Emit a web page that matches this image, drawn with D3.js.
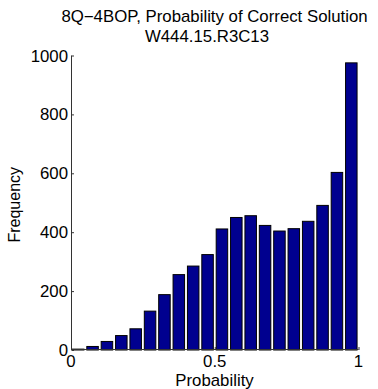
<!DOCTYPE html>
<html>
<head>
<meta charset="utf-8">
<script src="https://cdn.jsdelivr.net/npm/d3@7"></script>
<style>
  html, body { margin: 0; padding: 0; background: #fff; }
  svg { display: block; }
  text { font-family: "Liberation Sans", Arial, Helvetica, sans-serif; fill: #000; }
</style>
</head>
<body>
<svg id="chart" width="378" height="389"></svg>
<script>
// Histogram of solution probabilities, 20 equal bins on [0, 1]
const binCenters = [0.025, 0.075, 0.125, 0.175, 0.225, 0.275, 0.325, 0.375, 0.425, 0.475,
                    0.525, 0.575, 0.625, 0.675, 0.725, 0.775, 0.825, 0.875, 0.925, 0.975];
const counts = [3, 12, 29, 49, 72, 132, 188, 256, 285, 324,
                411, 450, 456, 423, 404, 412, 437, 491, 603, 975];
const binWidth = 0.05;

const xTicks = [0, 0.5, 1];
const xTickLabels = ["0", "0.5", "1"];
const yTicks = [0, 200, 400, 600, 800, 1000];
const yTickLabels = ["0", "200", "400", "600", "800", "1000"];

const titleLines = ["8Q\u22124BOP, Probability of Correct Solution", "W444.15.R3C13"];
const xLabel = "Probability";
const yLabel = "Frequency";

const svg = d3.select("#chart");
const plot = { left: 71, right: 358.5, top: 55.5, bottom: 350 };
const stretch = 1.05;   // slight horizontal widening of the figure text
const fontSize = 16;

const x = d3.scaleLinear().domain([0, 1]).range([plot.left, plot.right]);
const y = d3.scaleLinear().domain([0, 1000]).range([plot.bottom, plot.top]);

// bars
svg.append("g").selectAll("rect")
  .data(binCenters.map((c, i) => ({ c, v: counts[i] })))
  .join("rect")
  .attr("x", d => x(d.c - 0.4 * binWidth))
  .attr("width", d => x(0.8 * binWidth) - x(0))
  .attr("y", d => y(d.v))
  .attr("height", d => y(0) - y(d.v))
  .attr("fill", "#00008f")
  .attr("stroke", "#000")
  .attr("stroke-width", 1);

// helper for horizontally stretched text
function label(sel, txt, cx, baseline, anchor) {
  sel.append("text")
    .attr("transform", `translate(${cx},${baseline}) scale(${stretch},1)`)
    .attr("text-anchor", anchor)
    .style("font-size", fontSize + "px")
    .text(txt);
}

// axes (ticks point inward)
const yAxis = d3.axisLeft(y).tickValues(yTicks).tickSize(-3).tickFormat((d, i) => yTickLabels[i]);
const xAxis = d3.axisBottom(x).tickValues(xTicks).tickSize(-3).tickFormat((d, i) => xTickLabels[i]);

const gy = svg.append("g").attr("transform", `translate(${plot.left},0)`).call(yAxis);
gy.select(".domain").attr("d", `M0.5,${plot.top}V${plot.bottom}`).attr("stroke", "#333");
gy.selectAll(".tick line").attr("stroke", "#333").attr("x1", 0.5);
gy.selectAll(".tick text").remove();
yTicks.forEach((t, i) => label(svg, yTickLabels[i], plot.left - 3, y(t) + 6, "end"));

const gx = svg.append("g").attr("transform", `translate(0,${plot.bottom})`).call(xAxis);
gx.select(".domain").attr("d", `M${plot.left},-0.5H${plot.right}`).attr("stroke", "#333");
gx.selectAll(".tick line").attr("stroke", "#333");
gx.selectAll(".tick text").remove();
xTicks.forEach((t, i) => label(svg, xTickLabels[i], x(t), 367, "middle"));

// titles and axis labels
label(svg, titleLines[0], 214.5, 22, "middle");
label(svg, titleLines[1], 207, 42, "middle");
label(svg, xLabel, 214.5, 386, "middle");

svg.append("text")
  .attr("transform", `translate(20,${(plot.top + plot.bottom) / 2 + 2}) rotate(-90)`)
  .attr("text-anchor", "middle")
  .style("font-size", fontSize + "px")
  .text(yLabel);
</script>
</body>
</html>
